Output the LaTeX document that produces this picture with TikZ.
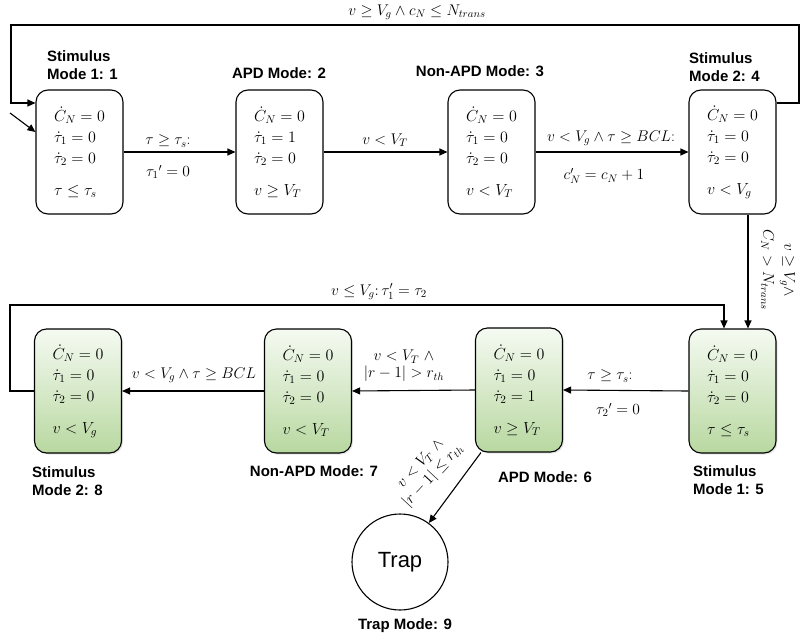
\RequirePackage{fix-cm}
\documentclass[tikz,border=0pt]{standalone}
\usepackage{fontspec}
\setsansfont{Liberation Sans}
\usetikzlibrary{arrows.meta,shadows}
\definecolor{gtop}{HTML}{F5FAF2}
\definecolor{gmid}{HTML}{D6E9C9}
\definecolor{gbot}{HTML}{B8D8A0}
\tikzset{
  mode/.style={draw, line width=1.1pt, rounded corners=12pt, minimum width=87pt,
    minimum height=124pt, align=left, inner sep=0pt, font=\fontsize{16}{21}\selectfont},
  gmode/.style={mode, top color=gtop, middle color=gmid, bottom color=gbot,
    drop shadow={shadow xshift=1.5pt, shadow yshift=-1.5pt, opacity=0.2}},
  title/.style={font=\fontsize{15}{18}\selectfont\sffamily\bfseries, inner sep=0pt},
  lab/.style={font=\fontsize{15.5}{21}\selectfont, inner sep=0pt, align=center},
  arr/.style={line width=1.1pt, -{Triangle[length=8pt,width=7pt]}},
}
\begin{document}
\begin{tikzpicture}[x=1pt,y=-1pt]
\useasboundingbox (0,0) rectangle (800,637);
\fill[white] (0,0) rectangle (800,637);

% top row
\node[mode] (b1) at (79.5,152) {$\dot{C}_N = 0$\\ $\dot{\tau}_1 = 0$\\ $\dot{\tau}_2 = 0$\\[11pt] $\tau \leq \tau_s$};
\node[mode] (b2) at (279.5,152) {$\dot{C}_N = 0$\\ $\dot{\tau}_1 = 1$\\ $\dot{\tau}_2 = 0$\\[11pt] $v \geq V_T$};
\node[mode] (b3) at (491.5,152) {$\dot{C}_N = 0$\\ $\dot{\tau}_1 = 0$\\ $\dot{\tau}_2 = 0$\\[11pt] $v < V_T$};
\node[mode] (b4) at (732.5,152) {$\dot{C}_N = 0$\\ $\dot{\tau}_1 = 0$\\ $\dot{\tau}_2 = 0$\\[11pt] $v < V_g$};

% bottom row
\node[gmode] (b8) at (78,391) {$\dot{C}_N = 0$\\ $\dot{\tau}_1 = 0$\\ $\dot{\tau}_2 = 0$\\[11pt] $v < V_g$};
\node[gmode] (b7) at (308,391) {$\dot{C}_N = 0$\\ $\dot{\tau}_1 = 0$\\ $\dot{\tau}_2 = 0$\\[11pt] $v < V_T$};
\node[gmode] (b6) at (519,390) {$\dot{C}_N = 0$\\ $\dot{\tau}_1 = 0$\\ $\dot{\tau}_2 = 1$\\[11pt] $v \geq V_T$};
\node[gmode] (b5) at (732.5,391) {$\dot{C}_N = 0$\\ $\dot{\tau}_1 = 0$\\ $\dot{\tau}_2 = 0$\\[11pt] $\tau \leq \tau_s$};

\node[draw, circle, line width=1.1pt, minimum size=96pt, inner sep=0pt,
  font=\fontsize{22}{26}\selectfont\sffamily] (trap) at (400,562) {Trap};

% titles
\node[title, anchor=west, align=left] (t1) at (47,65) {Stimulus\\Mode 1: 1};
\node[title] (t2) at (279,73) {APD Mode: 2};
\node[title] (t3) at (480,71) {Non-APD Mode: 3};
\node[title, anchor=west, align=left] (t4) at (689,67) {Stimulus\\Mode 2: 4};
\node[title, anchor=west, align=left] (t8) at (32,481) {Stimulus\\Mode 2: 8};
\node[title] (t7) at (314,471) {Non-APD Mode: 7};
\node[title] (t6) at (545,477) {APD Mode: 6};
\node[title, anchor=west, align=left] (t5) at (693,480) {Stimulus\\Mode 1: 5};
\node[title] (t9) at (405,626) {Trap Mode: 9};

% coordinates
\coordinate (init) at (10,113);
\coordinate (tr) at (799,25);
\coordinate (tl) at (11,25);
\coordinate (bl) at (10,305);

% connectors
\draw[arr] (init) -- ([yshift=20pt]b1.west);
\draw[arr] (b1.east) -- (b2.west);
\draw[arr] (b2.east) -- (b3.west);
\draw[arr] (b3.east) -- (b4.west);
\draw[arr] ([yshift=49pt]b4.east) -- ([yshift=49pt]b4.east -| tr) -- (tr) -- (tl)
  -- ([yshift=49pt]b1.west -| tl) -- ([yshift=49pt]b1.west);
\draw[arr] ([xshift=15.5pt]b4.south) -- ([xshift=15.5pt]b5.north);
\draw[arr] (b5.west) -- (b6.east);
\draw[arr] (b6.west) -- (b7.east);
\draw[arr] (b7.west) -- (b8.east);
\draw[arr] (b8.west) -- (b8.west -| bl) -- (bl) -- ([xshift=-8.5pt]b5.north |- bl)
  -- ([xshift=-8.5pt]b5.north);
\draw[arr] ([xshift=6pt]b6.south west) -- (trap);

% labels
\node[lab] (l0) at (417,12) {$v \geq V_g \wedge c_N \leq N_{trans}$};
\node[lab] (l12a) at (168,141) {$\tau \geq \tau_s$:};
\node[lab] (l12b) at (168,172) {$\tau_1{}' = 0$};
\node[lab] (l23) at (385,140) {$v < V_T$};
\node[lab] (l34a) at (611,138) {$v < V_g \wedge \tau \geq BCL$:};
\node[lab] (l34b) at (604,176) {$c'_N = c_N + 1$};
\node[lab, rotate=-90] (l45) at (778,270) {$v \geq V_g \wedge$\\ $C_N > N_{trans}$};
\node[lab] (l85) at (379,292) {$v \leq V_g\colon \tau'_1 = \tau_2$};
\node[lab] (l56a) at (610,376) {$\tau \geq \tau_s$:};
\node[lab] (l56b) at (618,410) {$\tau_2{}' = 0$};
\node[lab, font=\fontsize{15.5}{17}\selectfont] (l67) at (404,366) {$v < V_T\ \wedge$\\ $|r-1| > r_{th}$};
\node[lab] (l78) at (194,375) {$v < V_g \wedge \tau \geq BCL$};
\node[lab, rotate=47, font=\fontsize{15.5}{17}\selectfont] (l6t) at (427,470) {$v < V_T\ \wedge$\\ $|r-1| \leq r_{th}$};
\end{tikzpicture}
\end{document}
